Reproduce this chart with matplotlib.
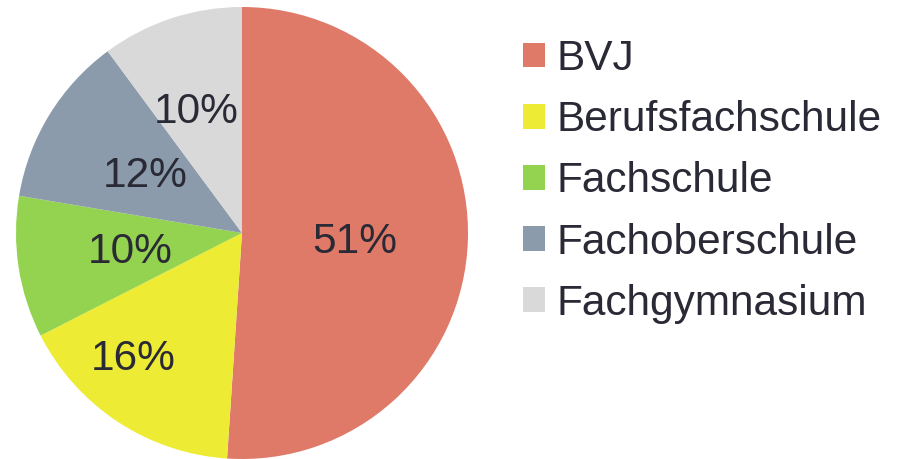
import numpy as np
import matplotlib
matplotlib.use("Agg")
import matplotlib.pyplot as plt
from matplotlib.patches import Patch

# shares (clockwise from 12 o'clock)
labels = ["BVJ", "Berufsfachschule", "Fachschule", "Fachoberschule", "Fachgymnasium"]
shares = [50.9, 16.4, 10.1, 12.2, 10.1]
colors = ["#DF7A69", "#EDEB33", "#94D350", "#8B9BAB", "#D9D9D9"]

INK = "#2A2A36"
FS = 30.5
plt.rcParams["font.family"] = ["Liberation Sans", "DejaVu Sans"]

fig = plt.figure(figsize=(9.01, 4.59), dpi=100, facecolor="white")
ax = fig.add_axes([16 / 901, 0.0, 452 / 901, 452 / 459])

wedges, texts, autotexts = ax.pie(
    shares, colors=colors, startangle=90, counterclock=False,
    autopct="%.0f%%", pctdistance=0.5, radius=1.0,
    wedgeprops=dict(linewidth=0),
    textprops=dict(color=INK, fontsize=FS))

# nudge a few percentage labels the way the original places them
label_r = [0.5, 0.73, 0.5, 0.5, 0.58]
label_shift = [1.5, 8.0, 0.0, 0.0, -2.0]
for w, t, r, s in zip(wedges, autotexts, label_r, label_shift):
    ang = np.deg2rad((w.theta1 + w.theta2) / 2 - s)
    t.set_position((r * np.cos(ang), r * np.sin(ang) - 0.01))

ax.set_xlim(-1, 1)
ax.set_ylim(-1, 1)
ax.set_aspect("equal")

handles = [Patch(facecolor=c, edgecolor="none") for c in colors]
leg = fig.legend(handles, labels, loc="upper left", bbox_to_anchor=(523 / 901, 1 - 39 / 459),
                 frameon=False, fontsize=FS, handlelength=0.52, handleheight=0.52,
                 handletextpad=0.28, labelspacing=0.5, borderpad=0, borderaxespad=0)
for t in leg.get_texts():
    t.set_color(INK)

fig.savefig("out.png", dpi=100, facecolor="white")
